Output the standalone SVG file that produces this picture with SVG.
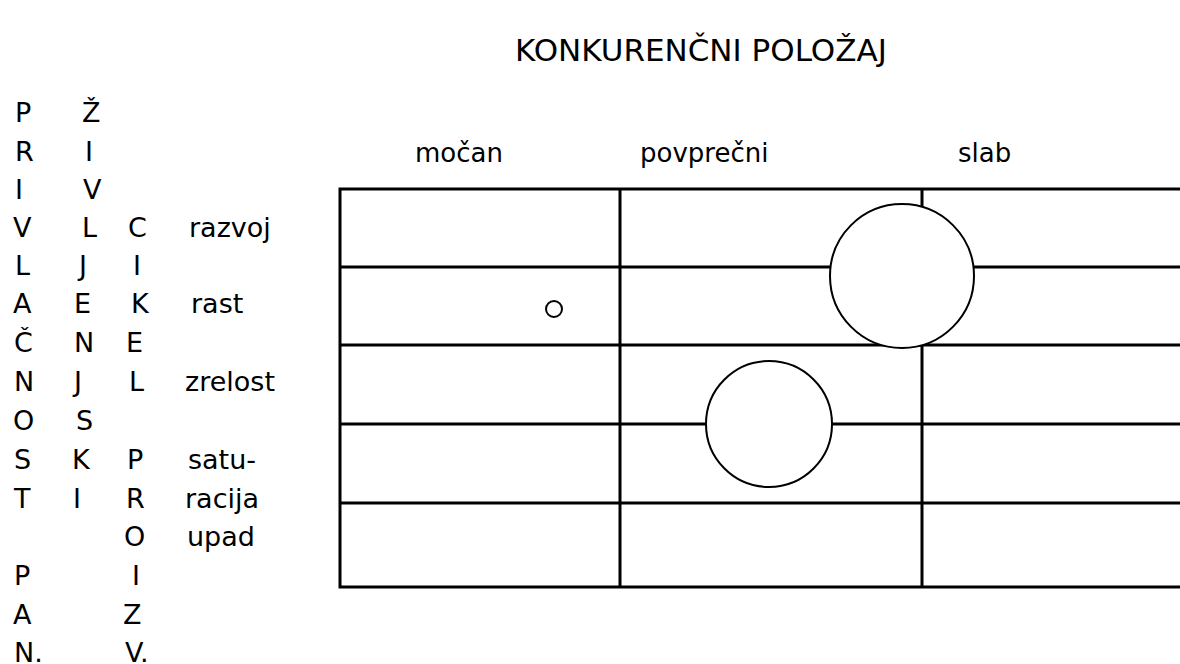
<svg xmlns="http://www.w3.org/2000/svg" width="1180" height="664" viewBox="0 0 1180 664">
<style>
text{font-family:"DejaVu Sans",sans-serif;font-size:27px;fill:#000}
text.h{font-size:26px}
text.t{font-size:31px}
.g{stroke:#000;stroke-width:3;fill:none}
.c{stroke:#000;stroke-width:2;fill:#fff}
</style>
<rect width="1180" height="664" fill="#fff"/>
<g id="title"><text class="t" x="515" y="61">KONKURENČNI POLOŽAJ</text></g>
<g id="col-labels">
<text class="h" x="415" y="162">močan</text>
<text class="h" x="640" y="162">povprečni</text>
<text class="h" x="958" y="162">slab</text>
</g>
<g id="row-labels">
<text x="15" y="122">P</text><text x="82" y="122">Ž</text>
<text x="15" y="161">R</text><text x="85" y="161">I</text>
<text x="15" y="199">I</text><text x="83" y="199">V</text>
<text x="13" y="237">V</text><text x="82" y="237">L</text><text x="128" y="237">C</text><text x="189" y="237">razvoj</text>
<text x="15" y="275">L</text><text x="79" y="275">J</text><text x="133" y="275">I</text>
<text x="13" y="313">A</text><text x="74" y="313">E</text><text x="131" y="313">K</text><text x="191" y="313">rast</text>
<text x="14" y="352">Č</text><text x="74" y="352">N</text><text x="126" y="352">E</text>
<text x="14" y="391">N</text><text x="74" y="391">J</text><text x="129" y="391">L</text><text x="185" y="391">zrelost</text>
<text x="13" y="430">O</text><text x="76" y="430">S</text>
<text x="14" y="469">S</text><text x="72" y="469">K</text><text x="127" y="469">P</text><text x="188" y="469">satu-</text>
<text x="14" y="508">T</text><text x="73" y="508">I</text><text x="126" y="508">R</text><text x="185" y="508">racija</text>
<text x="124" y="546">O</text><text x="187" y="546">upad</text>
<text x="14" y="585">P</text><text x="132" y="585">I</text>
<text x="13" y="624">A</text><text x="123" y="624">Z</text>
<text x="14" y="662">N.</text><text x="125" y="662">V.</text>
</g>
<g id="grid">
<path class="g" d="M1180 189H340V587H1180M340 267H1180M340 345H1180M340 424H1180M340 503H1180M620 189V587M922 189V587"/>
</g>
<g id="markers">
<circle id="small" class="c" cx="554" cy="309" r="8"/>
<circle id="big" class="c" cx="902" cy="276" r="72"/>
<circle id="medium" class="c" cx="769" cy="424" r="63"/>
</g>
</svg>
